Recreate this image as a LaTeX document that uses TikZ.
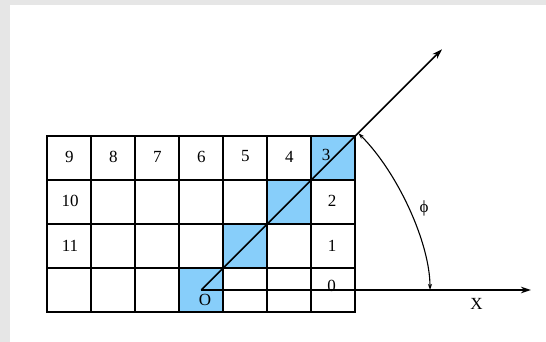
\documentclass[tikz,border=0pt]{standalone}
\usepackage{fontspec}
\setmainfont{Liberation Serif}
\usetikzlibrary{arrows.meta}
\definecolor{cellblue}{RGB}{135,206,250}
\definecolor{framegray}{RGB}{230,230,230}
\begin{document}
\begin{tikzpicture}[x=1pt,y=-1pt,
  gridline/.style={line width=1.7pt},
  lbl/.style={font=\fontsize{17}{17}\selectfont, inner sep=0pt},
  conn/.style={line width=1.5pt},
  bigtip/.style={-{Stealth[length=10pt,width=6.5pt]}},
  smalltip/.style={{Stealth[length=6pt,width=4pt]}-{Stealth[length=6pt,width=4pt]}},
]
\useasboundingbox (0,0) rectangle (546,342);
\fill[framegray] (0,0) rectangle (546,342);
\fill[white] (10,5) rectangle (546,342);
% blue cells
\fill[cellblue] (179.3,268) rectangle ++(44,44);
\fill[cellblue] (223.3,224) rectangle ++(44,44);
\fill[cellblue] (267.3,180) rectangle ++(44,44);
\fill[cellblue] (311.3,136) rectangle ++(44,44);
% grid
\foreach \i in {0,...,7} \draw[gridline] (47.3+44*\i,136) -- (47.3+44*\i,312);
\foreach \j in {0,...,4} \draw[gridline] (47.3,136+44*\j) -- (355.3,136+44*\j);
\draw[gridline,line cap=rect] (47.3,136) rectangle (355.3,312);
% labels
\node[lbl] (n9) at (69.3,156.5) {9};
\node[lbl] (n8) at (113.3,156.5) {8};
\node[lbl] (n7) at (157.3,156.5) {7};
\node[lbl] (n6) at (201.3,156.5) {6};
\node[lbl] (n5) at (245.3,156.5) {5};
\node[lbl] (n4) at (289.3,156.5) {4};
\node[lbl] (n3) at (326,154.5) {3};
\node[lbl] (n10) at (70,201) {10};
\node[lbl] (n11) at (70,245.5) {11};
\node[lbl] (n2) at (332,201) {2};
\node[lbl] (n1) at (332,245.5) {1};
\node[lbl,anchor=base] (n0) at (331.5,291) {0};
\node[lbl] (lO) at (205,299.5) {O};
\node[lbl] (lphi) at (424,208) {ϕ};
\node[lbl] (lX) at (476.5,304) {X};
% connectors
\coordinate (O) at (201.3,290);
\coordinate (diagEnd) at (442,49.3);
\coordinate (xEnd) at (531,290);
\coordinate (arcTop) at (358.5,133.3);
\coordinate (arcBot) at (430,290);
\draw[conn,bigtip] (O) -- (diagEnd);
\draw[conn,bigtip] (O) -- (xEnd);
\draw[line width=1.1pt,smalltip] (arcBot) .. controls (430,243.1) and (397.8,172.6) .. (arcTop);
\end{tikzpicture}
\end{document}
